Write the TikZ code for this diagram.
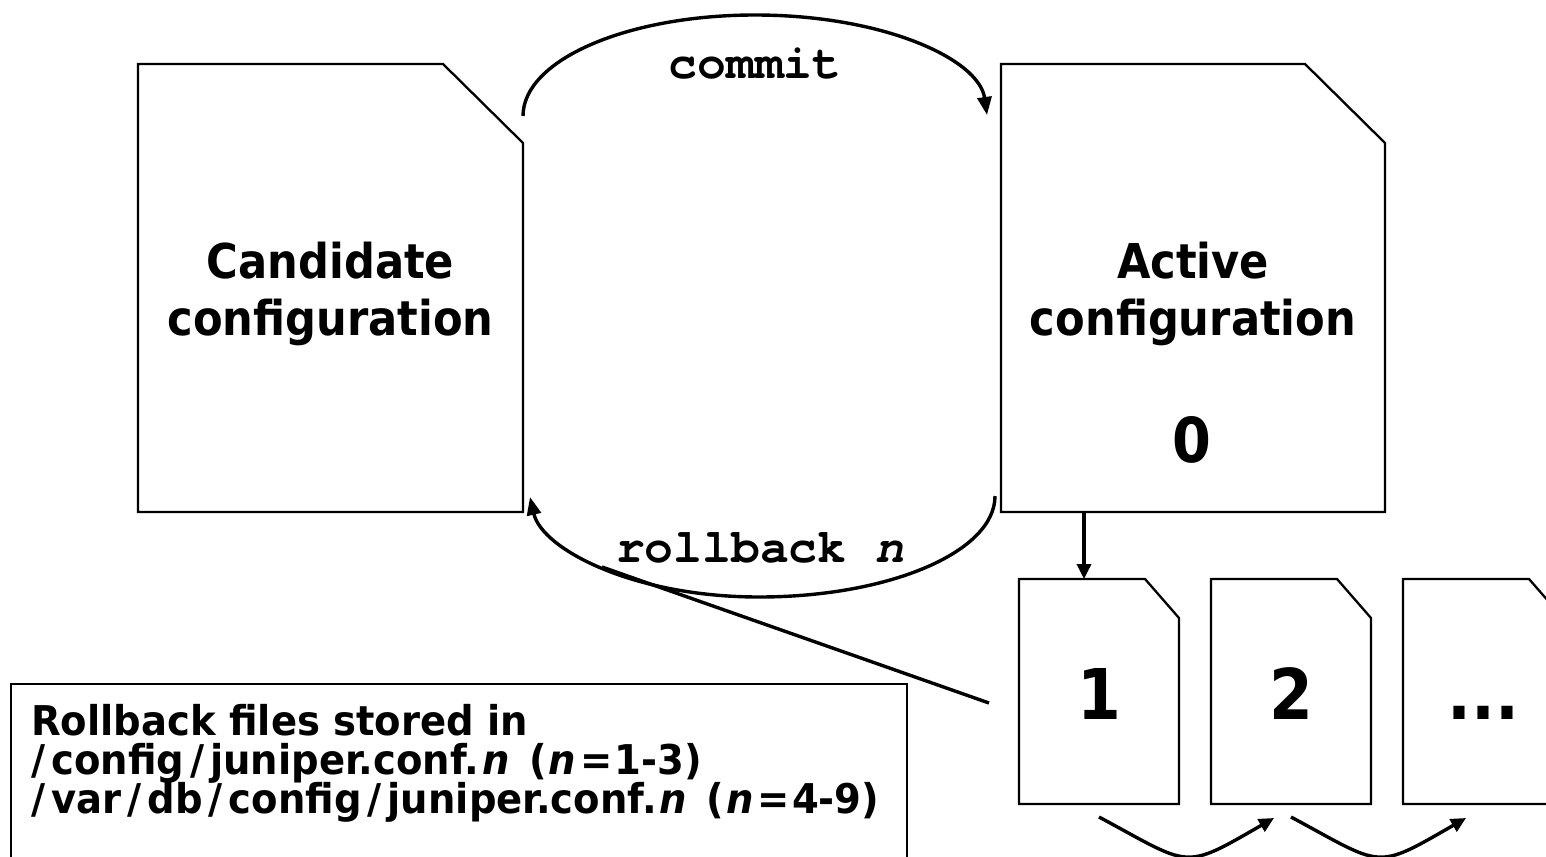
\documentclass[tikz,border=0pt]{standalone}
\usepackage{fontspec}
\newfontfamily\sansb{DejaVu Sans}[FakeStretch=0.9]
\newfontfamily\sansn{DejaVu Sans}[FakeStretch=0.94]
\newfontfamily\monob{texgyrecursor}[Extension=.otf, UprightFont=*-bold, BoldFont=*-bold, ItalicFont=*-bolditalic, BoldItalicFont=*-bolditalic]
\usetikzlibrary{arrows.meta}
\newcommand\docoutline[3]{\draw[outline] (#1.south west) -- (#1.north west) -- ([xshift=-#2pt]#1.north east) -- ([yshift=-#3pt]#1.north east) -- (#1.south east) -- cycle;}
\newcommand\slh{\kern6pt/\kern6pt}
\newcommand\itn{\textit{n}}
\newcommand\nrange[1]{.\kern3pt\itn\kern6pt\ (\kern2pt\itn\kern4pt=\kern2pt#1)}
\begin{document}
\begin{tikzpicture}[x=1pt,y=-1pt,
  outline/.style={line width=2.3pt, line join=miter},
  conn/.style={line width=3.4pt},
  bigtip/.style={-{Triangle[length=18pt,width=14pt]}},
  smalltip/.style={-{Triangle[length=15pt,width=14pt]}},
  shapebox/.style={rectangle, inner sep=0pt, outer sep=0pt, draw=none},
  biglabel/.style={font=\sansb\bfseries\fontsize{48}{57}\selectfont, inner sep=0pt, anchor=base},
  zerolabel/.style={font=\sansb\bfseries\fontsize{62}{62}\selectfont, inner sep=0pt, anchor=base},
  digitlabel/.style={font=\sansb\bfseries\fontsize{70}{70}\selectfont, inner sep=0pt, anchor=base},
  monolabel/.style={font=\monob\bfseries\fontsize{48}{48}\selectfont, inner sep=0pt, anchor=base},
  notelabel/.style={font=\sansn\bfseries\fontsize{41}{39}\selectfont, inner sep=0pt, anchor=base west, text height=28pt, text depth=8pt}
]
\clip (0,0) rectangle (1546,856);
\fill[white] (0,0) rectangle (1546,856);

% document shapes
\node[shapebox, minimum width=385pt, minimum height=448pt] (cand) at (330.5,288) {};
\node[shapebox, minimum width=384pt, minimum height=448pt] (act) at (1193,288) {};
\node[shapebox, minimum width=160pt, minimum height=225pt] (b1) at (1099,691.5) {};
\node[shapebox, minimum width=160pt, minimum height=225pt] (b2) at (1291,691.5) {};
\node[shapebox, minimum width=160pt, minimum height=225pt] (b3) at (1483,691.5) {};
\docoutline{cand}{80}{79}
\docoutline{act}{80}{79}
\docoutline{b1}{34}{39}
\docoutline{b2}{34}{39}
\docoutline{b3}{34}{39}

% note box
\node[shapebox, draw, line width=2pt, anchor=north west, minimum width=896pt, minimum height=200pt] (note) at (11,684) {};

% labels
\node[biglabel] (cand1) at (330.5,278) {Candidate};
\node[biglabel] (cand2) at (330.5,335) {configuration};
\node[biglabel] (act1) at (1193,278) {Active};
\node[biglabel] (act2) at (1193,335) {configuration};
\node[zerolabel] (zero) at (1192,462) {0};
\node[digitlabel] (one) at (1099,719) {1};
\node[digitlabel] (two) at (1291,719) {2};
\node[digitlabel] (dots) at (1483,719) {...};
\node[monolabel] (commitlbl) at (755,79) {commit};
\node[monolabel] (rolllbl) at (760,562) {rollback \textit{n}};
\node[notelabel] (n1) at (31,735) {Rollback files stored in};
\node[notelabel] (n2) at (31,774) {\kern-6pt\slh config\slh juniper.conf\nrange{1-3}};
\node[notelabel] (n3) at (31,813) {\kern-6pt\slh var\slh db\slh config\slh juniper.conf\nrange{4-9}};

% commit arc
\coordinate (cs) at ([yshift=-52pt]cand.north east);
\coordinate (ctop) at (755,15);
\coordinate (ce) at ([xshift=-14pt,yshift=-51pt]act.north west);
\draw[conn, bigtip] (cs) .. controls +(0,-56) and +(-128,0) .. (ctop) .. controls +(128,0) and +(-8,-56) .. (ce);

% rollback arc
\coordinate (rs) at ([xshift=-6pt,yshift=16pt]act.south west);
\coordinate (rbot) at (759,597);
\coordinate (re) at ([xshift=7pt,yshift=15pt]cand.south east);
\draw[conn, bigtip] (rs) .. controls +(0,56) and +(130,0) .. (rbot) .. controls +(-126,0) and +(12,52) .. (re);

% line from rollback files to rollback arc
\coordinate (ls) at ([xshift=-30pt,yshift=-11.5pt]b1.west);
\coordinate (le) at (602,567);
\draw[conn] (ls) -- (le);

% active -> file 1
\coordinate (dtop) at ([xshift=-15pt]b1.north);
\draw[conn, smalltip] (dtop |- act.south) -- (dtop);

% file chain arrows
\coordinate (a1s) at ([yshift=-13pt]b1.south);
\coordinate (a1e) at ([xshift=-17pt,yshift=-14pt]b2.south);
\coordinate (a2s) at ([yshift=-13pt]b2.south);
\coordinate (a2e) at ([xshift=-17pt,yshift=-14pt]b3.south);
\draw[conn, smalltip] (a1s) .. controls +(93,50) and +(-92,53) .. (a1e);
\draw[conn, smalltip] (a2s) .. controls +(93,50) and +(-92,53) .. (a2e);
\end{tikzpicture}
\end{document}
